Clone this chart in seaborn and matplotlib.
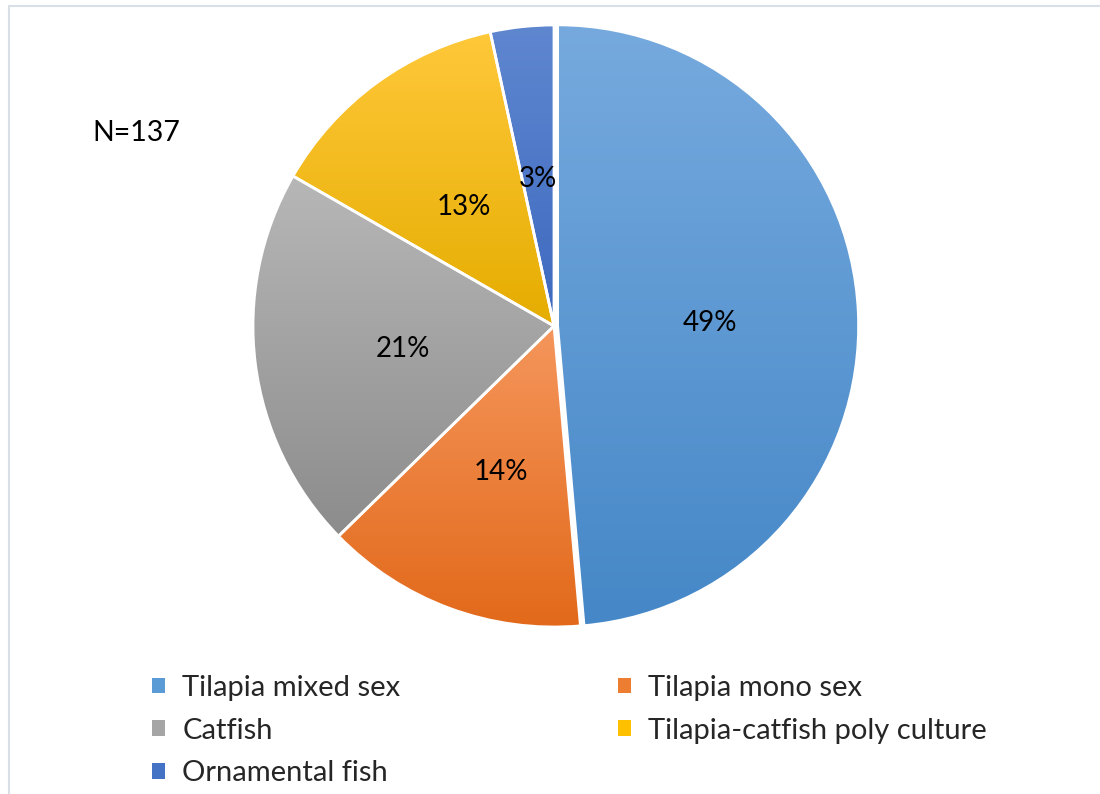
import numpy as np
import matplotlib
matplotlib.use("Agg")
import matplotlib.pyplot as plt
import seaborn as sns
from matplotlib.colors import LinearSegmentedColormap
from matplotlib.patches import Patch
from matplotlib.lines import Line2D

categories = ["Tilapia mixed sex", "Tilapia mono sex", "Catfish",
              "Tilapia-catfish poly culture", "Ornamental fish"]
shares = [48.6, 14.1, 20.6, 13.3, 3.4]
light_colors = ["#76AADE", "#F5965C", "#B7B7B7", "#FFC83A", "#5F87D0"]
dark_colors = ["#4587C7", "#E2691A", "#8C8C8C", "#E5AD00", "#3D69BF"]
mid_colors = ["#5B9BD5", "#ED7D31", "#A5A5A5", "#FFC000", "#4472C4"]
note_text = "N=137"

sns.set_theme(style="white")
plt.rcParams["font.family"] = ["Lato", "DejaVu Sans"]

W, H = 1100, 794
fig = plt.figure(figsize=(W / 100, H / 100), dpi=100)
fig.patch.set_facecolor("white")

cx, cy, r = 554, 326, 301
lim = 1.06
half = r * lim
ax = fig.add_axes([(cx - half) / W, (H - cy - half) / H, 2 * half / W, 2 * half / H])

wedges, texts, autotexts = ax.pie(
    shares, colors=mid_colors, startangle=90, counterclock=False,
    explode=[0.012, 0, 0, 0, 0],
    autopct=lambda p: f"{p:.0f}%", pctdistance=0.505,
    wedgeprops=dict(edgecolor="white", linewidth=2),
    textprops=dict(fontsize=20, color="black"))

grad = np.linspace(0, 1, 256).reshape(-1, 1)
for w, lc, dc in zip(wedges, light_colors, dark_colors):
    ext = w.get_path().get_extents()
    cmap = LinearSegmentedColormap.from_list("g", [lc, dc])
    im = ax.imshow(grad, extent=[ext.x0, ext.x1, ext.y0, ext.y1],
                   origin="upper", cmap=cmap, aspect="auto", zorder=1.2,
                   interpolation="bilinear")
    im.set_clip_path(w)
    w.set_facecolor("none")
    w.set_zorder(2)
for t in autotexts:
    t.set_zorder(3)
    x, y = t.get_position()
    t.set_position((x, y - 0.013))

ax.set_xlim(-lim, lim)
ax.set_ylim(-lim, lim)
ax.set_aspect("equal")
ax.axis("off")

handles = [Patch(facecolor=c, edgecolor="none") for c in mid_colors]
left_idx = [0, 2, 4]
right_idx = [1, 3]
common = dict(frameon=False, fontsize=21, handlelength=0.44, handleheight=0.44,
              handletextpad=0.6, labelspacing=0.57, borderpad=0, borderaxespad=0,
              loc="upper left")
leg1 = fig.legend([handles[i] for i in left_idx], [categories[i] for i in left_idx],
                  bbox_to_anchor=(152 / W, 1 - 675 / H), **common)
leg2 = fig.legend([handles[i] for i in right_idx], [categories[i] for i in right_idx],
                  bbox_to_anchor=(618 / W, 1 - 675 / H), **common)

fig.text(92 / W, 1 - 133 / H, note_text, ha="left", va="center", fontsize=20.5,
         color="black")

border = "#D9DFE7"
fig.add_artist(Line2D([8.5 / W, 1], [1 - 5.5 / H, 1 - 5.5 / H], color=border,
                      lw=1.5, transform=fig.transFigure))
fig.add_artist(Line2D([8.5 / W, 8.5 / W], [0, 1 - 5.5 / H], color=border,
                      lw=1.5, transform=fig.transFigure))

fig.savefig("out.png", dpi=100)
